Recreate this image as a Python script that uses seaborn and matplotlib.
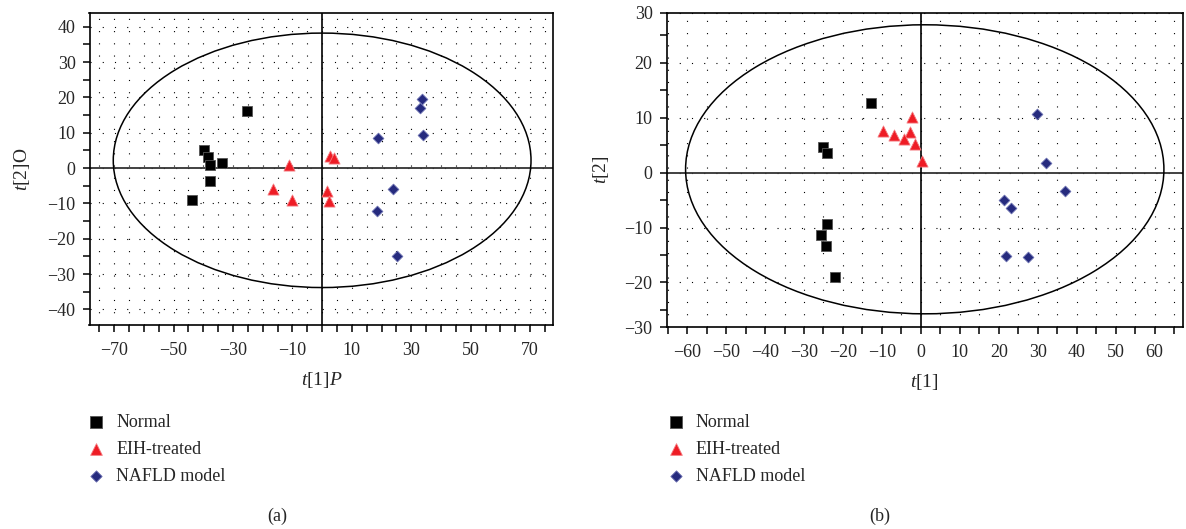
import numpy as np
import pandas as pd
import matplotlib
matplotlib.use("Agg")
import matplotlib.pyplot as plt
import seaborn as sns
from matplotlib.patches import Ellipse
from matplotlib.ticker import MultipleLocator, FixedLocator

# ---------------- data ----------------
groups = ["Normal", "EIH-treated", "NAFLD model"]

# panel (a): OPLS-DA scores t[1]P vs t[2]O
a_normal_x = [-25.4, -39.7, -38.4, -37.7, -33.8, -37.7, -43.8]
a_normal_y = [16.1, 5.2, 3.1, 0.8, 1.4, -3.7, -8.9]
a_eih_x = [-11.0, -16.4, -10.2, 2.8, 4.0, 1.8, 2.4]
a_eih_y = [1.0, -5.8, -9.0, 3.3, 2.8, -6.5, -9.3]
a_nafld_x = [33.5, 33.1, 33.8, 18.8, 24.0, 18.3, 25.1]
a_nafld_y = [19.5, 17.1, 9.3, 8.5, -5.8, -12.2, -24.8]

# panel (b): PCA scores t[1] vs t[2]
b_normal_x = [-12.7, -25.2, -24.1, -24.1, -25.6, -24.4, -22.1]
b_normal_y = [12.6, 4.6, 3.5, -9.3, -11.3, -13.3, -19.0]
b_eih_x = [-2.2, -9.7, -6.8, -2.7, -4.2, -1.5, 0.2]
b_eih_y = [10.2, 7.5, 6.8, 7.3, 6.2, 5.2, 2.1]
b_nafld_x = [29.8, 32.0, 36.9, 21.4, 23.2, 21.9, 27.4]
b_nafld_y = [10.6, 1.8, -3.3, -5.0, -6.5, -15.1, -15.3]

# Hotelling T2 ellipses (center x, center y, semi-axis x, semi-axis y)
a_ellipse = (0.0, 2.2, 70.3, 36.0)
b_ellipse = (1.0, 0.6, 61.4, 26.3)

a_xticks = [-70, -50, -30, -10, 10, 30, 50, 70]
a_yticks = [-40, -30, -20, -10, 0, 10, 20, 30, 40]
b_xticks = [-60, -50, -40, -30, -20, -10, 0, 10, 20, 30, 40, 50, 60]
b_ytick_labels = ["\u221230", "\u221220", "\u221210", "0", "10", "20", "30"]

# ---------------- style ----------------
sns.set_style("ticks")
plt.rcParams["font.family"] = ["Liberation Serif", "DejaVu Serif"]
plt.rcParams["mathtext.fontset"] = "custom"
plt.rcParams["mathtext.rm"] = "Liberation Serif"
plt.rcParams["mathtext.it"] = "Liberation Serif:italic"
plt.rcParams["axes.unicode_minus"] = True

colors = {"Normal": "#000000", "EIH-treated": "#EE1C25", "NAFLD model": "#262B7E"}
markers = {"Normal": "s", "EIH-treated": "^", "NAFLD model": "D"}
sizes = {"Normal": 62, "EIH-treated": 64, "NAFLD model": 30}
edges = {"Normal": "#555555", "EIH-treated": "#F47A7F", "NAFLD model": "#6A6FB0"}

fig = plt.figure(figsize=(11.86, 5.29), dpi=100)
W, H = 1186.0, 529.0

def axes_px(l, t, r, b):
    return fig.add_axes([l / W, 1 - b / H, (r - l) / W, (b - t) / H])

axA = axes_px(89.5, 13.3, 553.3, 325.0)
axB = axes_px(666.5, 12.7, 1183.0, 327.0)

def make_df(xs, ys):
    rows = []
    for g, (x, y) in zip(groups, zip(xs, ys)):
        for xi, yi in zip(x, y):
            rows.append({"x": xi, "y": yi, "group": g})
    return pd.DataFrame(rows)

dfA = make_df([a_normal_x, a_eih_x, a_nafld_x], [a_normal_y, a_eih_y, a_nafld_y])
dfB = make_df([b_normal_x, b_eih_x, b_nafld_x], [b_normal_y, b_eih_y, b_nafld_y])

dot_style = dict(color="black", linewidth=0.8, linestyle=(0, (1, 10)))

def draw(ax, df, ell):
    for g in groups:
        sub = df[df["group"] == g]
        sns.scatterplot(data=sub, x="x", y="y", ax=ax, color=colors[g],
                        marker=markers[g], s=sizes[g], edgecolor=edges[g],
                        linewidth=0.6, label=g, zorder=4)
    cx, cy, rx, ry = ell
    ax.add_patch(Ellipse((cx, cy), 2 * rx, 2 * ry, fill=False,
                         edgecolor="black", linewidth=1.1, zorder=3))
    ax.axhline(0, color="#333333", linewidth=1.3, zorder=2)
    ax.axvline(0, color="black", linewidth=1.2, zorder=2)
    for s in ax.spines.values():
        s.set_linewidth(1.2)
        s.set_color("black")
    ax.tick_params(axis="both", which="both", direction="out", length=5,
                   width=1.1, color="black", labelsize=13)
    ax.tick_params(axis="x", pad=7)
    ax.tick_params(axis="y", pad=5)

# panel (a)
draw(axA, dfA, a_ellipse)
axA.set_xlim(-78.3, 77.8)
axA.set_ylim(-44.4, 43.8)
axA.xaxis.set_major_locator(FixedLocator(a_xticks))
axA.xaxis.set_minor_locator(MultipleLocator(5))
axA.yaxis.set_major_locator(FixedLocator(a_yticks))
axA.yaxis.set_minor_locator(MultipleLocator(5))
axA.xaxis.grid(True, which="both", **dot_style)
axA.yaxis.grid(True, which="major", **dot_style)
axA.set_axisbelow(True)
axA.set_xlabel(r"$t$[1]$P$", fontsize=14, labelpad=8)
axA.set_ylabel(r"$t$[2]O", fontsize=14, labelpad=11)

# panel (b)
draw(axB, dfB, b_ellipse)
b_ylim = (-28.1, 29.1)
axB.set_xlim(-65.3, 67.3)
axB.set_ylim(*b_ylim)
axB.xaxis.set_major_locator(FixedLocator(b_xticks))
axB.xaxis.set_minor_locator(MultipleLocator(5))
axB.yaxis.set_major_locator(FixedLocator([b_ylim[0], -20, -10, 0, 10, 20, b_ylim[1]]))
axB.set_yticklabels(b_ytick_labels)
axB.yaxis.set_minor_locator(FixedLocator([-25, -15, -5, 5, 15, 25]))
axB.xaxis.grid(True, which="both", **dot_style)
axB.yaxis.grid(True, which="major", **dot_style)
axB.set_axisbelow(True)
axB.set_xlabel(r"$t$[1]", fontsize=14, labelpad=8)
axB.set_ylabel(r"$t$[2]", fontsize=14, labelpad=10)

# legends below each panel
for ax, left in ((axA, 87.3), (axB, 666.8)):
    leg = ax.legend(loc="upper left", bbox_to_anchor=(left / W, 1 - 414 / H),
                    bbox_transform=fig.transFigure, frameon=False, fontsize=13,
                    handlelength=1.0, handletextpad=0.6, labelspacing=0.55,
                    borderpad=0, borderaxespad=0, markerscale=1.05)

fig.text(277 / W, 1 - 516 / H, "(a)", ha="center", va="center", fontsize=13)
fig.text(880 / W, 1 - 516 / H, "(b)", ha="center", va="center", fontsize=13)

fig.savefig("out.png", dpi=100)
